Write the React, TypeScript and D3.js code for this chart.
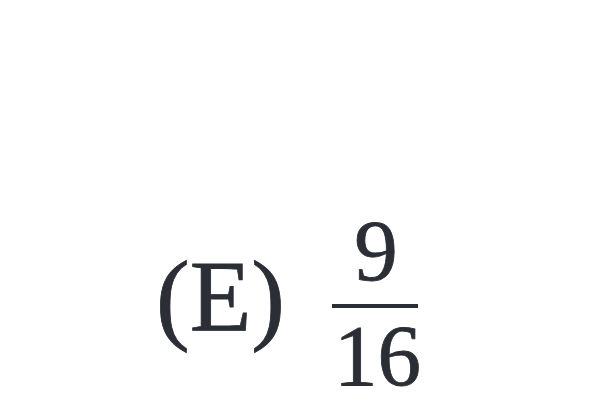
import { useEffect, useRef } from "react"
import * as d3 from "d3"

// answer choice shown in the picture
const choiceLabels = ["(E)"]
const numerators = [9]
const denominators = [16]

const inkColor = "#2b2e35"
const serif = "'Liberation Serif', 'Times New Roman', serif"

export default function App() {
  const svgRef = useRef<SVGSVGElement>(null)

  useEffect(() => {
    if (!svgRef.current) return
    const svg = d3.select(svgRef.current)
    svg.selectAll("*").remove()

    const width = 609
    const height = 416
    svg.attr("width", width).attr("height", height)

    // horizontal slots: label, then fraction
    const x = d3.scalePoint<string>()
      .domain(["label", "fraction"])
      .range([220.5, 376])

    const g = svg.append("g")

    g.selectAll("text.label")
      .data(choiceLabels)
      .join("text")
      .attr("class", "label")
      .attr("x", x("label")!)
      .attr("y", 331)
      .attr("text-anchor", "middle")
      .attr("font-family", serif)
      .attr("font-size", 101)
      .attr("fill", inkColor)
      .attr("stroke", inkColor)
      .attr("stroke-width", 0.8)
      .text(d => d)

    const frac = g.append("g").attr("transform", `translate(${x("fraction")},0)`)

    frac.selectAll("text.num")
      .data(numerators)
      .join("text")
      .attr("class", "num")
      .attr("x", 0)
      .attr("y", 280)
      .attr("text-anchor", "middle")
      .attr("font-family", serif)
      .attr("font-size", 87)
      .attr("fill", inkColor)
      .attr("stroke", inkColor)
      .attr("stroke-width", 0.8)
      .text(d => String(d))

    frac.selectAll("text.den")
      .data(denominators)
      .join("text")
      .attr("class", "den")
      .attr("x", 1.5)
      .attr("y", 385)
      .attr("text-anchor", "middle")
      .attr("font-family", serif)
      .attr("font-size", 87)
      .attr("fill", inkColor)
      .attr("stroke", inkColor)
      .attr("stroke-width", 0.8)
      .text(d => String(d))

    frac.append("rect")
      .attr("x", -44)
      .attr("y", 304)
      .attr("width", 86)
      .attr("height", 4)
      .attr("fill", inkColor)
  }, [])

  return (
    <svg
      ref={svgRef}
      style={{ position: "absolute", left: 0, top: 0, background: "#fff" }}
    />
  )
}
